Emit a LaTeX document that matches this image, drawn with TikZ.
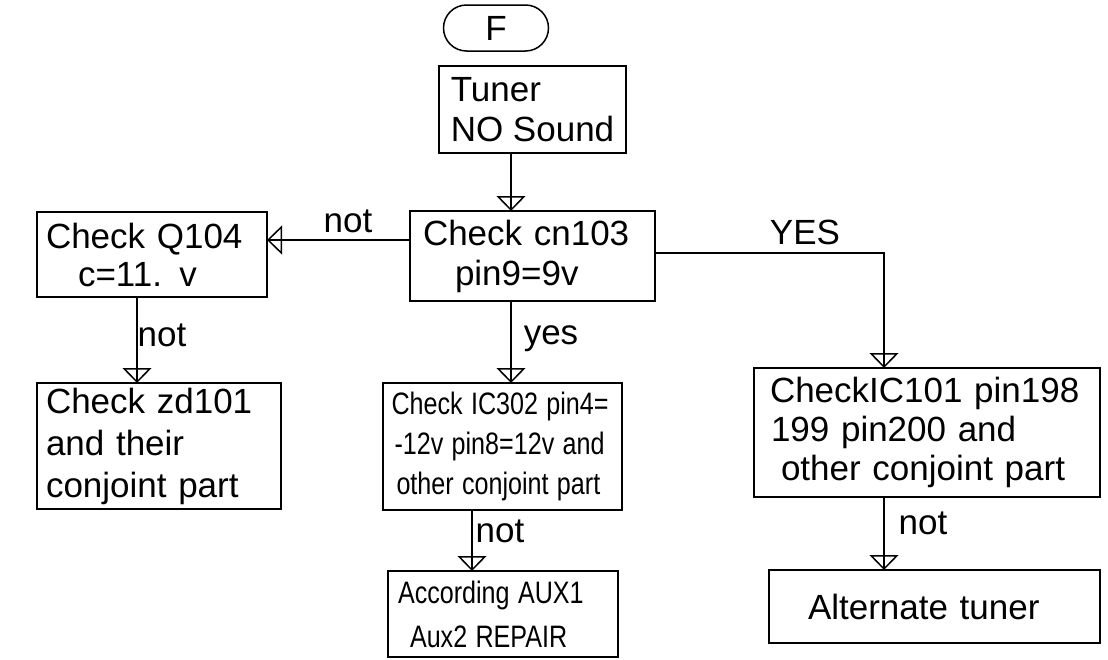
\documentclass[tikz,border=0pt]{standalone}
\usepackage{fontspec}
\usepackage{graphicx}
\setmainfont{Liberation Sans}
\usetikzlibrary{arrows.meta}
\newcommand{\boxfont}[1][40]{\fontsize{35}{#1}\selectfont}
\newcommand{\slimfont}[1][40]{\fontsize{31}{#1}\selectfont}
\newcommand{\slim}[1]{\scalebox{0.81}[1]{#1}}

\tikzset{
  stepbox/.style={draw, line width=1.5pt, anchor=north west, outer sep=0pt,
                  align=left, inner ysep=0pt, font=\boxfont},
  flow/.style={line width=1.5pt, -{Triangle[open, length=15pt, width=29pt]},
               postaction={draw, -}},
  lbl/.style={inner sep=0pt, font=\boxfont},
}

\begin{document}
\begin{tikzpicture}[x=1pt,y=-1pt]
   \useasboundingbox (0,0) rectangle (1108,659);
   % boxes
   \node[stepbox, anchor=center, align=center, rounded corners=23pt, inner sep=0pt,
         minimum width=105pt, minimum height=46pt] (f) at (496,28) {F};
   \node[stepbox, minimum height=87pt, minimum width=187pt, inner xsep=0pt]
        (tuner) at (439,66) {Tuner\\NO Sound};
   \node[stepbox, minimum height=90pt, inner xsep=13pt, text width=219pt]
        (cn) at (410,211) {Check cn103\\\hspace*{32pt}pin9=9v};
   \node[stepbox, minimum height=85pt, inner xsep=9pt, text width=212pt,
         font={\boxfont[38]}] (q) at (37,212) {Check Q104\\\hspace*{32pt}c=11. v};
   \node[stepbox, minimum height=126pt, inner xsep=9pt, text width=226pt,
         font={\boxfont[42]}] (zd) at (37,383) {Check zd101\\and their\\conjoint part};
   \node[stepbox, minimum height=127pt, inner xsep=8.5pt, text width=222pt,
         font=\slimfont] (ic302) at (383,383)
        {\slim{Check IC302 pin4=}\\\hspace*{3pt}\slim{-12v pin8=12v and}\\
         \hspace*{5pt}\slim{other conjoint part}};
   \node[stepbox, minimum height=86pt, inner xsep=10pt, text width=210pt,
         font={\slimfont[44]}] (aux) at (388,571)
        {\slim{According AUX1}\\\hspace*{12pt}\slim{Aux2 REPAIR}};
   \node[stepbox, minimum height=129pt, inner xsep=16pt, text width=314pt,
         font={\boxfont[39]}] (ic101) at (754,368)
        {CheckIC101 pin198\\\hspace*{1pt}199 pin200 and\\\hspace*{11pt}other conjoint part};
   \node[stepbox, minimum height=73pt, inner xsep=39pt, text width=253pt]
        (alt) at (769,570) {Alternate tuner};
   % connectors
   \draw[flow] ([xshift=-21.5pt]tuner.south) -- ([xshift=-21.5pt]cn.north);
   \draw[flow] ([yshift=16pt]cn.west) -- ([yshift=16pt]cn.west -| q.east);
   \draw[flow] ([xshift=-15pt]q.south) -- ([xshift=-15pt]q.south |- zd.north);
   \draw[flow] ([xshift=-21.5pt]cn.south) -- ([xshift=-21.5pt]cn.south |- ic302.north);
   \draw[flow] ([yshift=3pt]cn.east) -| ([xshift=-43pt]ic101.north);
   \draw[flow] ([xshift=-30.5pt]ic302.south) -- ([xshift=-30.5pt]ic302.south |- aux.north);
   \draw[flow] ([xshift=-43pt]ic101.south) -- ([xshift=-43pt]ic101.south |- alt.north);
   % labels
   \node[lbl] (notq)   at (348,221) {not};
   \node[lbl] (notzd)  at (162,335) {not};
   \node[lbl] (yesic)  at (551,339) {yes};
   \node[lbl] (yesup)  at (805,232) {YES};
   \node[lbl] (notaux) at (500,531) {not};
   \node[lbl] (notalt) at (923,523) {not};
\end{tikzpicture}
\end{document}
